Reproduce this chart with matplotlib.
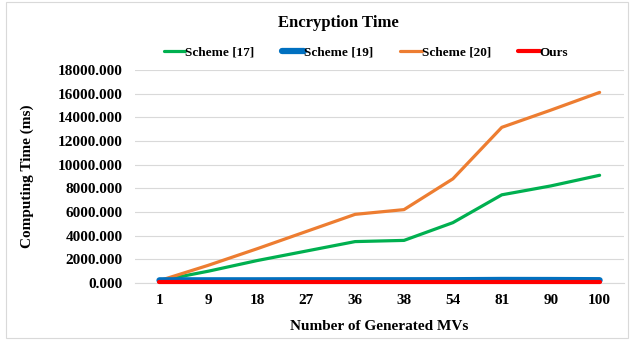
import matplotlib.pyplot as plt
from matplotlib.patches import Rectangle

# ======================================================
# DATA
# ======================================================

mvs = ["1", "9", "18", "27", "36", "38", "54", "81", "90", "100"]

scheme_17 = [200, 1000, 1900, 2700, 3500, 3600, 5100, 7450, 8200, 9100]
scheme_19 = [230, 230, 230, 235, 235, 235, 240, 260, 255, 240]
scheme_20 = [200, 1500, 2900, 4350, 5800, 6200, 8800, 13150, 14600, 16100]
ours = [70, 70, 70, 70, 70, 70, 70, 70, 70, 70]

yticks = [0, 2000, 4000, 6000, 8000, 10000, 12000, 14000, 16000, 18000]

# ======================================================
# PLOT
# ======================================================

plt.rcParams["font.family"] = ["Liberation Serif", "DejaVu Serif"]
plt.rcParams["font.weight"] = "bold"

fig = plt.figure(figsize=(6.31, 3.41), dpi=100)
ax = fig.add_axes([0.214, 0.170, 0.775, 0.625])

x = range(len(mvs))

ax.plot(x, scheme_17, color="#00b050", lw=2.3, label="Scheme [17]",
        solid_capstyle="round", zorder=3, clip_on=False)
ax.plot(x, scheme_19, color="#0070c0", lw=4.5, label="Scheme [19]",
        solid_capstyle="round", zorder=4, clip_on=False)
ax.plot(x, scheme_20, color="#ed7d31", lw=2.3, label="Scheme [20]",
        solid_capstyle="round", zorder=3, clip_on=False)
ax.plot(x, ours, color="#ff0000", lw=3.0, label="Ours",
        solid_capstyle="round", zorder=5, clip_on=False)

ax.set_xlim(-0.5, len(mvs) - 0.5)
ax.set_ylim(0, 18000)
ax.set_xticks(list(x))
ax.set_xticklabels(mvs)
ax.set_yticks(yticks)
ax.set_yticklabels([f"{v:.3f}" for v in yticks])

ax.tick_params(axis="both", length=0, labelsize=11, pad=9)
ax.tick_params(axis="x", pad=8)
ax.grid(axis="y", color="#d9d9d9", lw=0.8)
ax.set_axisbelow(True)
for side in ["top", "right", "left"]:
    ax.spines[side].set_visible(False)
ax.spines["bottom"].set_color("#d9d9d9")

ax.set_ylabel("Computing Time (ms)", fontsize=11, fontweight="bold", labelpad=17)
ax.set_xlabel("Number of Generated MVs", fontsize=11, fontweight="bold", labelpad=9)

fig.text(0.536, 0.932, "Encryption Time", ha="center", va="center",
         fontsize=12, fontweight="bold")

fig.legend(loc="center", bbox_to_anchor=(0.580, 0.845), ncol=4, frameon=False,
           fontsize=9.5, handlelength=1.65, handletextpad=0.0, columnspacing=2.05)

fig.patches.append(Rectangle((0.01, 0.01), 0.985, 0.985, transform=fig.transFigure,
                             fill=False, edgecolor="#d9d9d9", lw=0.8))

plt.savefig("out.png", dpi=100)
plt.close()
